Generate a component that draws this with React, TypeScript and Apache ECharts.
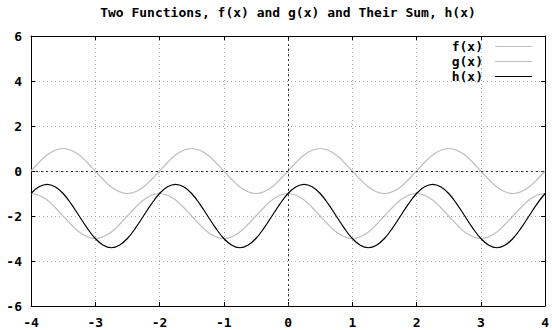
import React, { useEffect, useRef } from "react";
import * as echarts from "echarts";

// x samples, step 1/8 from -4 to 4
const xValues: number[] = [
  -4, -3.875, -3.75, -3.625, -3.5, -3.375, -3.25, -3.125,
  -3, -2.875, -2.75, -2.625, -2.5, -2.375, -2.25, -2.125,
  -2, -1.875, -1.75, -1.625, -1.5, -1.375, -1.25, -1.125,
  -1, -0.875, -0.75, -0.625, -0.5, -0.375, -0.25, -0.125,
  0, 0.125, 0.25, 0.375, 0.5, 0.625, 0.75, 0.875,
  1, 1.125, 1.25, 1.375, 1.5, 1.625, 1.75, 1.875,
  2, 2.125, 2.25, 2.375, 2.5, 2.625, 2.75, 2.875,
  3, 3.125, 3.25, 3.375, 3.5, 3.625, 3.75, 3.875,
  4,
];

const fValues: number[] = [
  0, 0.38, 0.71, 0.92, 1, 0.92, 0.71, 0.38,
  0, -0.38, -0.71, -0.92, -1, -0.92, -0.71, -0.38,
  0, 0.38, 0.71, 0.92, 1, 0.92, 0.71, 0.38,
  0, -0.38, -0.71, -0.92, -1, -0.92, -0.71, -0.38,
  0, 0.38, 0.71, 0.92, 1, 0.92, 0.71, 0.38,
  0, -0.38, -0.71, -0.92, -1, -0.92, -0.71, -0.38,
  0, 0.38, 0.71, 0.92, 1, 0.92, 0.71, 0.38,
  0, -0.38, -0.71, -0.92, -1, -0.92, -0.71, -0.38,
  0,
];

const gValues: number[] = [
  -1, -1.08, -1.29, -1.62, -2, -2.38, -2.71, -2.92,
  -3, -2.92, -2.71, -2.38, -2, -1.62, -1.29, -1.08,
  -1, -1.08, -1.29, -1.62, -2, -2.38, -2.71, -2.92,
  -3, -2.92, -2.71, -2.38, -2, -1.62, -1.29, -1.08,
  -1, -1.08, -1.29, -1.62, -2, -2.38, -2.71, -2.92,
  -3, -2.92, -2.71, -2.38, -2, -1.62, -1.29, -1.08,
  -1, -1.08, -1.29, -1.62, -2, -2.38, -2.71, -2.92,
  -3, -2.92, -2.71, -2.38, -2, -1.62, -1.29, -1.08,
  -1,
];

const hValues: number[] = [
  -1, -0.7, -0.59, -0.7, -1, -1.46, -2, -2.54,
  -3, -3.3, -3.41, -3.3, -3, -2.54, -2, -1.46,
  -1, -0.7, -0.59, -0.7, -1, -1.46, -2, -2.54,
  -3, -3.3, -3.41, -3.3, -3, -2.54, -2, -1.46,
  -1, -0.7, -0.59, -0.7, -1, -1.46, -2, -2.54,
  -3, -3.3, -3.41, -3.3, -3, -2.54, -2, -1.46,
  -1, -0.7, -0.59, -0.7, -1, -1.46, -2, -2.54,
  -3, -3.3, -3.41, -3.3, -3, -2.54, -2, -1.46,
  -1,
];

const seriesNames = ["f(x)", "g(x)", "h(x)"];
const titleText = "Two Functions, f(x) and g(x) and Their Sum, h(x)";

const MONO = "'DejaVu Sans Mono', 'Liberation Mono', monospace";

const pairs = (ys: number[]) => xValues.map((x, i) => [x, ys[i]]);

export default function App() {
  const ref = useRef<HTMLDivElement>(null);

  useEffect(() => {
    document.body.style.margin = "0";
    if (!ref.current) return;
    const chart = echarts.init(ref.current, null, { renderer: "svg" });

    const labelStyle = {
      fontFamily: MONO,
      fontWeight: "bold" as const,
      fontSize: 13,
      color: "#000",
    };
    const gridLine = {
      show: true,
      lineStyle: { color: "#a8a8a8", type: [1, 3] as any, width: 1 },
    };
    const tick = { show: true, inside: true, length: 4, lineStyle: { color: "#000" } };
    const frameLine = { show: true, onZero: false, lineStyle: { color: "#000" } };

    chart.setOption({
      animation: false,
      backgroundColor: "#fff",
      title: {
        text: titleText,
        left: 288,
        textAlign: "center",
        top: 6,
        padding: 0,
        textStyle: { ...labelStyle, fontSize: 13 },
      },
      legend: {
        orient: "vertical",
        right: 20,
        top: 39,
        padding: 0,
        align: "right",
        icon: "rect",
        itemWidth: 37,
        itemHeight: 1,
        itemGap: 0,
        textStyle: { ...labelStyle, padding: [0, 7, 0, 0], lineHeight: 15 },
        data: seriesNames,
      },
      grid: {
        left: 31,
        right: 6,
        top: 36,
        bottom: 24,
        show: false,
      },
      xAxis: [
        {
          type: "value",
          min: -4,
          max: 4,
          interval: 1,
          axisLine: frameLine,
          axisTick: tick,
          axisLabel: { ...labelStyle, margin: 10 },
          splitLine: gridLine,
        },
        {
          type: "value",
          position: "top",
          min: -4,
          max: 4,
          interval: 1,
          axisLine: frameLine,
          axisTick: tick,
          axisLabel: { show: false },
          splitLine: { show: false },
        },
      ],
      yAxis: [
        {
          type: "value",
          min: -6,
          max: 6,
          interval: 2,
          axisLine: frameLine,
          axisTick: tick,
          axisLabel: { ...labelStyle, margin: 9 },
          splitLine: gridLine,
        },
        {
          type: "value",
          position: "right",
          min: -6,
          max: 6,
          interval: 2,
          axisLine: frameLine,
          axisTick: tick,
          axisLabel: { show: false },
          splitLine: { show: false },
        },
      ],
      series: [
        {
          name: seriesNames[0],
          type: "line",
          data: pairs(fValues),
          symbol: "none",
          smooth: 0.4,
          lineStyle: { color: "#bdbdbd", width: 1.2 },
          itemStyle: { color: "#bdbdbd" },
          markLine: {
            silent: true,
            symbol: "none",
            label: { show: false },
            lineStyle: { color: "#333", type: [2, 3] as any, width: 1 },
            data: [{ yAxis: 0 }, { xAxis: 0 }],
          },
          z: 2,
        },
        {
          name: seriesNames[1],
          type: "line",
          data: pairs(gValues),
          symbol: "none",
          smooth: 0.4,
          lineStyle: { color: "#bdbdbd", width: 1.2 },
          itemStyle: { color: "#bdbdbd" },
          z: 2,
        },
        {
          name: seriesNames[2],
          type: "line",
          data: pairs(hValues),
          symbol: "none",
          smooth: 0.4,
          lineStyle: { color: "#000", width: 1.2 },
          itemStyle: { color: "#000" },
          z: 3,
        },
      ],
    });

    return () => chart.dispose();
  }, []);

  return <div ref={ref} style={{ width: 552, height: 330 }} />;
}
